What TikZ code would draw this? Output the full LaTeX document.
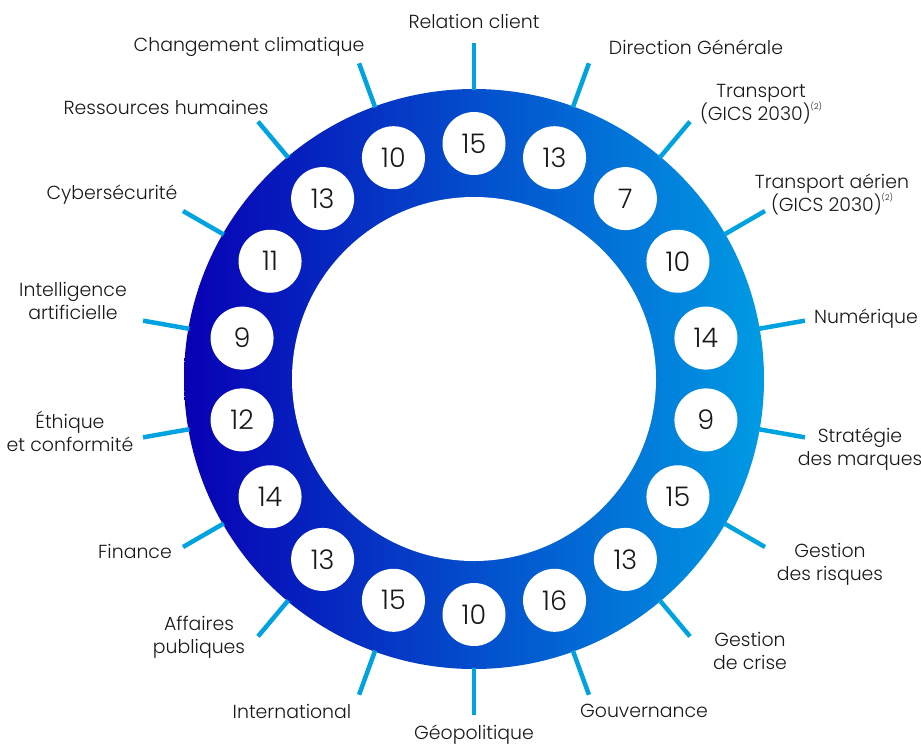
\documentclass[tikz,border=0pt]{standalone}
\usepackage{fontspec}
\setmainfont{Poppins Light}
\definecolor{ringL}{RGB}{8,0,180}
\definecolor{ringR}{RGB}{0,155,228}
\definecolor{tickc}{RGB}{0,163,224}
\definecolor{txt}{RGB}{25,25,25}
\newcommand\gicsnote{\raisebox{0.55em}{\fontsize{8}{8}\selectfont(2)}}
\begin{document}
\begin{tikzpicture}[x=1pt,y=-1pt,
  lbl/.style={font=\fontsize{18.9}{23}\selectfont, text=txt, align=center, inner sep=0pt},
  num/.style={circle, fill=white, minimum size=63pt, inner sep=0pt, font=\fontsize{27}{27}\selectfont, text=txt},
  tickline/.style={draw=tickc, line width=4.5pt}]
\useasboundingbox (0,0) rectangle (921,745);
\coordinate (C) at (474,379);
\shade[left color=ringL, right color=ringR] (C) circle[radius=290];
\fill[white] (C) circle[radius=182];
\foreach \a/\n/\i in {90/15/1, 70/13/2, 50/7/3, 30/10/4, 10/14/5, -10/9/6, -30/15/7, -50/13/8, -70/16/9, -90/10/10, -110/15/11, -130/13/12, -150/14/13, -170/12/14, 170/9/15, 150/11/16, 130/13/17, 110/10/18}{
  \coordinate (t\i a) at ({474+289*cos(\a)},{379-289*sin(\a)});
  \coordinate (t\i b) at ({474+336*cos(\a)},{379-336*sin(\a)});
  \draw[tickline] (t\i a) -- (t\i b);
  \node[num] (n\i) at ({474+235.5*cos(\a)},{379-235.5*sin(\a)}) {\n};
}
\node[lbl] (l1) at (474,21) {Relation client};
\node[lbl] (l2) at (696,47) {Direction Générale};
\node[lbl] (l3) at (761,104) {Transport\\(GICS 2030)\gicsnote};
\node[lbl] (l4) at (832,194) {Transport aérien\\(GICS 2030)\gicsnote};
\node[lbl] (l5) at (866,319) {Numérique};
\node[lbl] (l6) at (860,449) {Stratégie\\des marques};
\node[lbl] (l7) at (830,564) {Gestion\\des risques};
\node[lbl] (l8) at (750,651) {Gestion\\de crise};
\node[lbl] (l9) at (644,711) {Gouvernance};
\node[lbl] (l10) at (474,735) {Géopolitique};
\node[lbl] (l11) at (292,711) {International};
\node[lbl] (l12) at (199,637) {Affaires\\publiques};
\node[lbl] (l13) at (135,551) {Finance};
\node[lbl] (l14) at (70,431) {Éthique\\et conformité};
\node[lbl] (l15) at (73,301) {Intelligence\\artificielle};
\node[lbl] (l16) at (112,195) {Cybersécurité};
\node[lbl] (l17) at (166,107) {Ressources humaines};
\node[lbl] (l18) at (249,47) {Changement climatique};
\end{tikzpicture}
\end{document}
